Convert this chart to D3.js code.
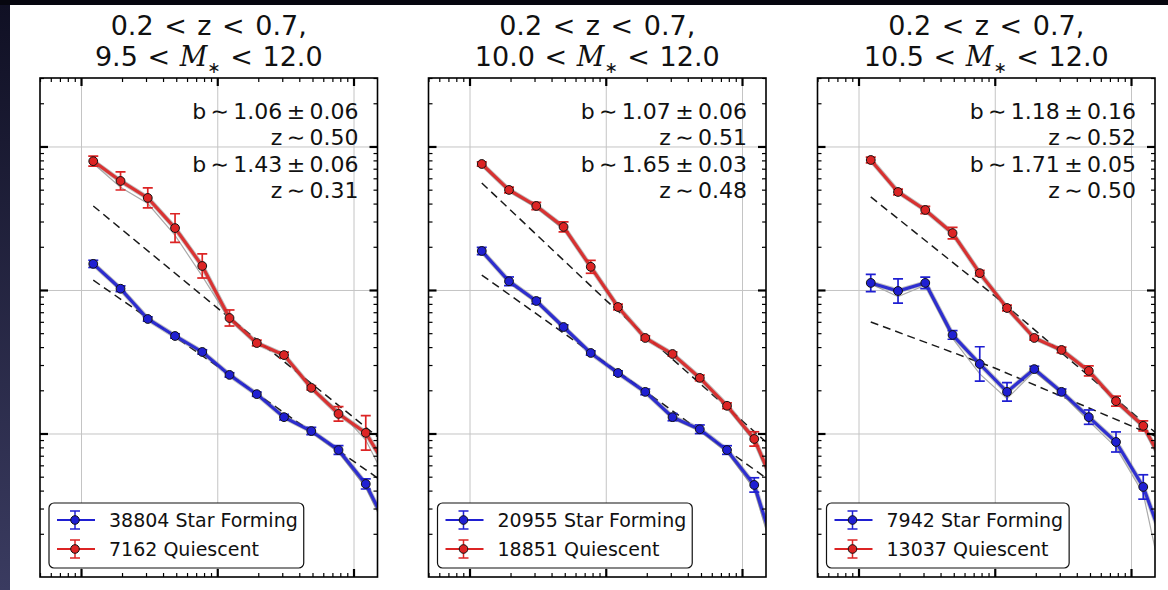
<!DOCTYPE html>
<html>
<head>
<meta charset="utf-8">
<script src="https://cdn.jsdelivr.net/npm/d3@7"></script>
<style>
  body { margin: 0; background: #0b0b18; }
  svg { display: block; }
  text { font-family: "DejaVu Sans", sans-serif; fill: #111; }
</style>
</head>
<body>
<svg id="chart" width="1168" height="590"></svg>
<script>
// panel labels
var massLow = ["9.5", "10.0", "10.5"];
var sfCounts = ["38804", "20955", "7942"];
var qCounts = ["7162", "18851", "13037"];
var sfBias = ["1.06", "1.07", "1.18"], sfBiasErr = ["0.06", "0.06", "0.16"], sfZ = ["0.50", "0.51", "0.52"];
var qBias = ["1.43", "1.65", "1.71"], qBiasErr = ["0.06", "0.03", "0.05"], qZ = ["0.31", "0.48", "0.50"];

// separation bins (last one sits past the right edge)
var rBins = [0.123, 0.195, 0.309, 0.49, 0.776, 1.23, 1.95, 3.09, 4.9, 7.76, 12.3, 19.5];

// star forming w(r), errors in dex
var sfW = [
  [15.2, 10.2, 6.28, 4.78, 3.70, 2.56, 1.88, 1.30, 1.04, 0.767, 0.445, 0.187],
  [18.7, 11.5, 8.38, 5.52, 3.64, 2.64, 1.95, 1.30, 1.07, 0.767, 0.438, 0.110],
  [11.2, 9.84, 11.2, 4.86, 3.05, 1.95, 2.81, 1.95, 1.30, 0.873, 0.424, 0.127]
];
var sfErr = [
  [0.025, 0.02, 0.015, 0.015, 0.015, 0.015, 0.015, 0.02, 0.025, 0.03, 0.035, 0.04],
  [0.025, 0.03, 0.02, 0.015, 0.015, 0.015, 0.02, 0.025, 0.03, 0.03, 0.05, 0.06],
  [0.06, 0.085, 0.04, 0.03, 0.12, 0.065, 0.02, 0.02, 0.05, 0.07, 0.085, 0.1]
];
var sfGray = [
  [15.0, 10.0, 6.2, 4.7, 3.65, 2.55, 1.86, 1.28, 1.02, 0.74, 0.42, 0.17],
  [18.3, 11.2, 8.2, 5.4, 3.6, 2.6, 1.92, 1.27, 1.04, 0.74, 0.41, 0.09],
  [11.0, 9.0, 10.8, 4.6, 2.6, 1.75, 2.7, 1.9, 1.22, 0.80, 0.38, 0.05]
];

// quiescent w(r)
var qW = [
  [79, 57.5, 43.8, 27, 14.7, 6.38, 4.27, 3.52, 2.08, 1.37, 1.01, 0.49],
  [75.5, 49.8, 38.5, 27.5, 14.5, 7.61, 4.63, 3.58, 2.44, 1.56, 0.916, 0.333],
  [80.5, 48.2, 36.1, 24.9, 13.1, 7.49, 4.63, 3.82, 2.73, 1.68, 1.13, 0.506]
];
var qErr = [
  [0.035, 0.063, 0.07, 0.1, 0.084, 0.056, 0.02, 0.02, 0.015, 0.05, 0.12, 0.1],
  [0.015, 0.02, 0.025, 0.035, 0.045, 0.02, 0.015, 0.015, 0.02, 0.02, 0.05, 0.06],
  [0.02, 0.02, 0.025, 0.04, 0.02, 0.02, 0.015, 0.02, 0.035, 0.035, 0.035, 0.04]
];
var qGray = [
  [76, 52, 40, 24, 12.5, 6.2, 4.2, 3.45, 2.05, 1.45, 0.9, 0.38],
  [74, 48.5, 37.5, 26.5, 14.2, 7.5, 4.55, 3.5, 2.4, 1.52, 0.88, 0.30],
  [79, 47.5, 35.5, 24.3, 12.9, 7.4, 4.55, 3.75, 2.68, 1.64, 1.10, 0.45]
];

// dashed fits
var fitR = [0.123, 1.0, 15];
var sfFit = [[11.7, 2.95, 0.49], [12.7, 3.10, 0.49], [5.98, 2.86, 0.96]];
var qFit = [[38.5, 7.5, 0.95], [55.7, 8.5, 0.873], [44.5, 9.08, 1.02]];

var blue = "#1f1fd2", red = "#dc2424";

var svg = d3.select("#chart");

// dark backdrop with bluish strip at left
var defs = svg.append("defs");
var grad = defs.append("linearGradient").attr("id", "strip")
    .attr("x1", 0).attr("y1", 0).attr("x2", 0).attr("y2", 1);
grad.append("stop").attr("offset", "0%").attr("stop-color", "#101024");
grad.append("stop").attr("offset", "100%").attr("stop-color", "#3a3b60");
svg.append("rect").attr("width", 1168).attr("height", 590).attr("fill", "#06060f");
svg.append("rect").attr("y", 5).attr("width", 10).attr("height", 585).attr("fill", "url(#strip)");
svg.append("rect").attr("x", 10).attr("y", 5).attr("width", 1158).attr("height", 585).attr("fill", "#fff");

var top0 = 78, bottom0 = 577, panelW = 337.5;
var lefts = [40, 428.5, 817.5];

var y = d3.scaleLog().domain([0.1, 300]).range([bottom0, top0]);

lefts.forEach(function(left, p) {
  var x = d3.scaleLog().domain([0.05, 15]).range([left, left + panelW]);
  var g = svg.append("g");
  var cx = left + panelW / 2;

  // title
  g.append("text").attr("x", cx).attr("y", 35).attr("text-anchor", "middle")
      .style("font-size", "27px").style("word-spacing", "2px").text("0.2 < z < 0.7,");
  var t2 = g.append("text").attr("x", cx).attr("y", 66).attr("text-anchor", "middle")
      .style("font-size", "27px").style("word-spacing", "1px");
  t2.append("tspan").text(massLow[p] + " < ");
  t2.append("tspan").style("font-family", "'DejaVu Serif', serif").style("font-style", "italic").text("M");
  t2.append("tspan").attr("dy", 7).style("font-size", "16px").text("\u2217");
  t2.append("tspan").attr("dy", -7).text(" < 12.0");

  var xMaj = x.ticks().filter(function(d) { return Math.abs(Math.log10(d) % 1) < 1e-6; });
  var xMin = x.ticks().filter(function(d) { return xMaj.indexOf(d) < 0; });
  var yMaj = [1, 10, 100];
  var yMin = y.ticks().filter(function(d) { return yMaj.indexOf(d) < 0 && d !== 0.1; });

  // grid
  g.append("g").attr("transform", "translate(0," + bottom0 + ")")
      .call(d3.axisBottom(x).tickValues(xMaj).tickSize(-(bottom0 - top0)).tickFormat(""))
      .call(function(s) { s.select(".domain").remove(); s.selectAll("line").attr("stroke", "#c4c4c4").attr("stroke-width", 1); });
  g.append("g").attr("transform", "translate(" + left + ",0)")
      .call(d3.axisLeft(y).tickValues(yMaj).tickSize(-panelW).tickFormat(""))
      .call(function(s) { s.select(".domain").remove(); s.selectAll("line").attr("stroke", "#c4c4c4").attr("stroke-width", 1); });

  // clip for the data
  defs.append("clipPath").attr("id", "clip" + p).append("rect")
      .attr("x", left).attr("y", top0).attr("width", panelW).attr("height", bottom0 - top0);
  var plot = g.append("g").attr("clip-path", "url(#clip" + p + ")");

  var line = d3.line().x(function(d) { return x(d[0]); }).y(function(d) { return y(d[1]); });
  function pairs(vals, rr) { return vals.map(function(v, i) { return [(rr || rBins)[i], v]; }); }

  // dashed fits
  [sfFit[p], qFit[p]].forEach(function(f) {
    plot.append("path").attr("d", line(pairs(f, fitR))).attr("fill", "none")
        .attr("stroke", "#1a1a1a").attr("stroke-width", 1.5).attr("stroke-dasharray", "8,5");
  });

  var series = [
    { w: sfW[p], e: sfErr[p], gray: sfGray[p], c: blue },
    { w: qW[p], e: qErr[p], gray: qGray[p], c: red }
  ];
  series.forEach(function(s) {
    plot.append("path").attr("d", line(pairs(s.gray))).attr("fill", "none")
        .attr("stroke", "#aaa").attr("stroke-width", 1.2);
    plot.append("path").attr("d", line(pairs(s.w))).attr("fill", "none")
        .attr("stroke", "#777").attr("stroke-width", 5).attr("stroke-opacity", 0.45);
    plot.append("path").attr("d", line(pairs(s.w))).attr("fill", "none")
        .attr("stroke", s.c).attr("stroke-width", 3.2).attr("stroke-opacity", 0.9);
  });
  series.forEach(function(s) {
    var pts = plot.append("g").selectAll("g").data(pairs(s.w).map(function(d, i) { return [d[0], d[1], s.e[i]]; }))
      .enter().append("g");
    pts.append("line")
        .attr("x1", function(d) { return x(d[0]); }).attr("x2", function(d) { return x(d[0]); })
        .attr("y1", function(d) { return y(d[1] * Math.pow(10, d[2])); })
        .attr("y2", function(d) { return y(d[1] / Math.pow(10, d[2])); })
        .attr("stroke", s.c).attr("stroke-width", 1.7);
    [1, -1].forEach(function(sg) {
      pts.append("line")
          .attr("x1", function(d) { return x(d[0]) - 5; }).attr("x2", function(d) { return x(d[0]) + 5; })
          .attr("y1", function(d) { return y(d[1] * Math.pow(10, sg * d[2])); })
          .attr("y2", function(d) { return y(d[1] * Math.pow(10, sg * d[2])); })
          .attr("stroke", s.c).attr("stroke-width", 1.7);
    });
    pts.append("circle").attr("cx", function(d) { return x(d[0]); }).attr("cy", function(d) { return y(d[1]); })
        .attr("r", 4.4).attr("fill", s.c).attr("stroke", "#111").attr("stroke-width", 1);
  });

  // ticks on all four sides, pointing in
  function ticks(axis, tr, vals, size, w) {
    g.append("g").attr("transform", tr).call(axis.tickValues(vals).tickSize(-size).tickFormat(""))
      .call(function(s) { s.select(".domain").remove(); s.selectAll("line").attr("stroke", "#000").attr("stroke-width", w); });
  }
  ticks(d3.axisBottom(x), "translate(0," + bottom0 + ")", xMaj, 8, 2.2);
  ticks(d3.axisBottom(x), "translate(0," + bottom0 + ")", xMin, 4, 1.2);
  ticks(d3.axisTop(x), "translate(0," + top0 + ")", xMaj, 8, 2.2);
  ticks(d3.axisTop(x), "translate(0," + top0 + ")", xMin, 4, 1.2);
  ticks(d3.axisLeft(y), "translate(" + left + ",0)", yMaj, 8, 2.2);
  ticks(d3.axisLeft(y), "translate(" + left + ",0)", yMin, 4, 1.2);
  ticks(d3.axisRight(y), "translate(" + (left + panelW) + ",0)", yMaj, 8, 2.2);
  ticks(d3.axisRight(y), "translate(" + (left + panelW) + ",0)", yMin, 4, 1.2);

  g.append("rect").attr("x", left).attr("y", top0).attr("width", panelW).attr("height", bottom0 - top0)
      .attr("fill", "none").attr("stroke", "#000").attr("stroke-width", 1.6);

  // fit annotations
  var ax = left + panelW - 19;
  var ann = [
    "b\u2009\u223C\u2009" + sfBias[p] + "\u2009\u00B1\u2009" + sfBiasErr[p],
    "z\u2009\u223C\u2009" + sfZ[p],
    "b\u2009\u223C\u2009" + qBias[p] + "\u2009\u00B1\u2009" + qBiasErr[p],
    "z\u2009\u223C\u2009" + qZ[p]
  ];
  ann.forEach(function(s, i) {
    g.append("text").attr("x", ax).attr("y", 119 + i * 26.3).attr("text-anchor", "end")
        .style("font-size", "22px").text(s);
  });

  // legend
  var lx = left + 9, ly = 503;
  var leg = g.append("g");
  var box = leg.append("rect").attr("x", lx).attr("y", ly).attr("height", 65).attr("rx", 5)
      .attr("fill", "#fff").attr("stroke", "#111").attr("stroke-width", 1.2);
  var entries = [
    { label: sfCounts[p] + " Star Forming", c: blue, yy: ly + 17 },
    { label: qCounts[p] + " Quiescent", c: red, yy: ly + 46 }
  ];
  var maxW = 0;
  entries.forEach(function(en) {
    leg.append("line").attr("x1", lx + 8).attr("x2", lx + 46).attr("y1", en.yy).attr("y2", en.yy)
        .attr("stroke", en.c).attr("stroke-width", 2);
    leg.append("line").attr("x1", lx + 26).attr("x2", lx + 26).attr("y1", en.yy - 9).attr("y2", en.yy + 9)
        .attr("stroke", en.c).attr("stroke-width", 1.5);
    [-9, 9].forEach(function(o) {
      leg.append("line").attr("x1", lx + 21).attr("x2", lx + 31).attr("y1", en.yy + o).attr("y2", en.yy + o)
          .attr("stroke", en.c).attr("stroke-width", 1.5);
    });
    leg.append("circle").attr("cx", lx + 26).attr("cy", en.yy).attr("r", 4.3)
        .attr("fill", en.c).attr("stroke", "#111").attr("stroke-width", 1);
    var tx = leg.append("text").attr("x", lx + 60).attr("y", en.yy + 7).style("font-size", "19px").text(en.label);
    maxW = Math.max(maxW, tx.node().getComputedTextLength());
  });
  box.attr("width", 60 + maxW + 6);
});
</script>
</body>
</html>
